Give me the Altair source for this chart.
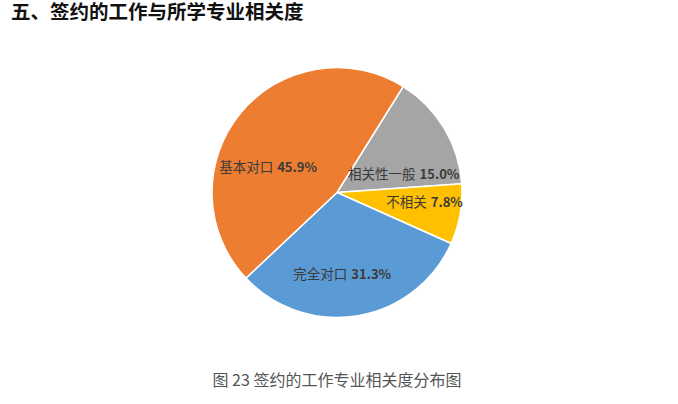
import math

import altair as alt
import pandas as pd

# Share of signed jobs by relevance to the graduate's major (percent)
categories = ["相关性一般", "不相关", "完全对口", "基本对口"]
shares = [15.0, 7.8, 31.3, 45.9]
colors = ["#A5A5A5", "#FFC000", "#5B9BD5", "#ED7D31"]

title_text = "五、签约的工作与所学专业相关度"
caption_text = "图 23  签约的工作专业相关度分布图"

df = pd.DataFrame({
    "category": categories,
    "share": shares,
    "order": list(range(len(categories))),
})
df["value_label"] = [f"{v:.1f}%" for v in shares]

W, H = 678, 404
CX, CY, R = 337, 192.5, 125
LABEL_R = 80
FONT = "Noto Sans CJK SC"
start = math.radians(32)
theta_scale = alt.Scale(domain=[0, 100], range=[start, start + 2 * math.pi])

base = alt.Chart(df)

pie = base.mark_arc(outerRadius=R, stroke="white", strokeWidth=1.5).encode(
    theta=alt.Theta("share:Q", stack=True, scale=theta_scale),
    color=alt.Color("category:N", scale=alt.Scale(domain=categories, range=colors), legend=None),
    order=alt.Order("order:Q"),
    x=alt.value(CX),
    y=alt.value(CY),
)

# label anchors: mid-angle of each slice, nudged to sit like the data labels
label_base = base.transform_window(
    cum="sum(share)", sort=[alt.SortField("order")]
).transform_calculate(mid="datum.cum - datum.share / 2")

nudges = {
    "相关性一般": (12, 24),
    "不相关": (13, -3),
    "完全对口": (-1, 4),
    "基本对口": (0, 26),
}

label_layers = []
for cat in categories:
    dx, dy = nudges[cat]
    sub = label_base.transform_filter(alt.datum.category == cat)
    enc = dict(
        theta=alt.Theta("mid:Q", scale=theta_scale, stack=None),
        x=alt.value(CX),
        y=alt.value(CY),
    )
    name = sub.mark_text(
        radius=LABEL_R, align="right", baseline="middle", dx=dx - 2, dy=dy,
        font=FONT, fontSize=13.5, color="#3a3a3a",
    ).encode(text="category:N", **enc)
    val = sub.mark_text(
        radius=LABEL_R, align="left", baseline="middle", dx=dx + 2, dy=dy,
        font=FONT, fontSize=13, fontWeight="bold", color="#3a3a3a",
    ).encode(text="value_label:N", **enc)
    label_layers += [name, val]

one_row = alt.Data(values=[{"k": 0}])
title = alt.Chart(one_row).mark_text(
    align="left", baseline="top", font=FONT, fontSize=19.5, fontWeight="bold", color="#111111",
).encode(x=alt.value(11), y=alt.value(4), text=alt.value(title_text))

caption = alt.Chart(one_row).mark_text(
    align="center", baseline="middle", font=FONT, fontSize=16, color="#555555",
).encode(x=alt.value(337), y=alt.value(381), text=alt.value(caption_text))

chart = alt.layer(pie, *label_layers, title, caption).properties(
    width=W, height=H, background="white", padding=0,
    autosize=alt.AutoSizeParams(type="none"),
).configure_view(stroke=None)

chart.save("out.html", embed_options={"renderer": "svg", "actions": False})
